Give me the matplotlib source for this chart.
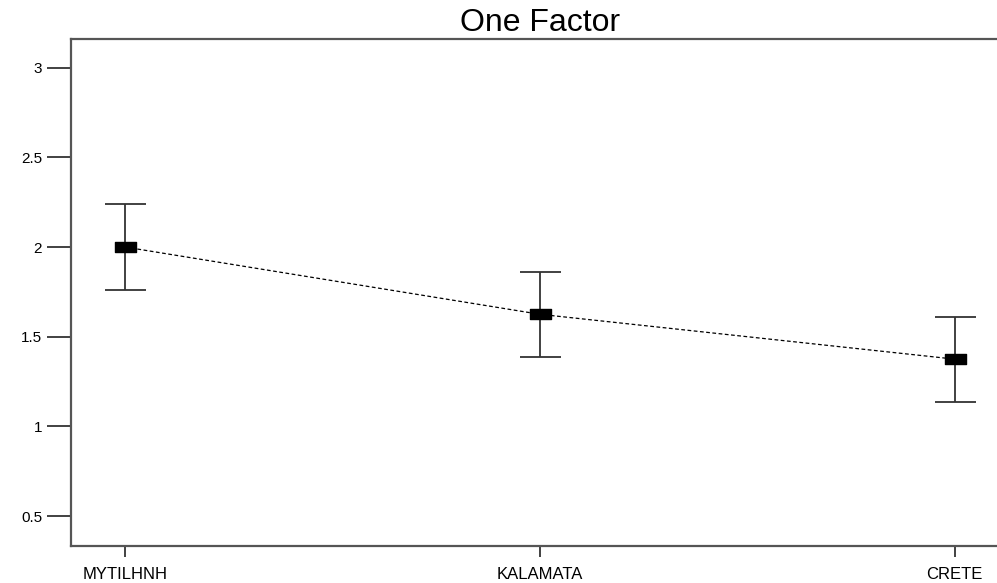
import matplotlib
matplotlib.use("Agg")
import matplotlib.pyplot as plt
from matplotlib.path import Path

# Group means with their interval half-widths
groups = ["MYTILHNH", "KALAMATA", "CRETE"]
means = [2.0, 1.625, 1.375]
half_width = [0.24, 0.237, 0.237]
y_ticks = [0.5, 1, 1.5, 2, 2.5, 3]
y_tick_labels = ["0.5", "1", "1.5", "2", "2.5", "3"]

plt.rcParams["font.family"] = ["Liberation Sans", "DejaVu Sans"]

fig = plt.figure(figsize=(9.97, 5.83), dpi=100)
# axes box runs slightly past the right edge of the canvas
ax = fig.add_axes([70.7 / 997, 1 - 546 / 583, (1009 - 70.7) / 997, (546 - 39) / 583])

x = list(range(1, len(groups) + 1))

# flat rectangle marker for the means
rect = Path([[-1, -0.5], [1, -0.5], [1, 0.5], [-1, 0.5], [-1, -0.5]],
            [Path.MOVETO, Path.LINETO, Path.LINETO, Path.LINETO, Path.CLOSEPOLY])

ax.plot(x, means, color="black", lw=0.9, linestyle=(0, (3, 2)), zorder=2)
ax.errorbar(x, means, yerr=half_width, fmt="none", ecolor="#333333",
            elinewidth=1.3, capsize=20.5 * 0.72, capthick=1.3, zorder=3)
ax.plot(x, means, linestyle="none", marker=rect, markersize=21 * 0.72,
        color="black", zorder=4)

ax.set_xlim(0.869, 3.131)
ax.set_ylim(0.333, 3.16)
ax.set_xticks(x)
ax.set_xticklabels(groups, fontsize=12)
ax.set_yticks(y_ticks)
ax.set_yticklabels(y_tick_labels, fontsize=11)

ax.tick_params(axis="y", direction="out", length=17, width=1.3, pad=3.5, colors="#333333",
               labelcolor="black")
ax.tick_params(axis="x", direction="out", length=8, width=1.3, pad=7, colors="#333333",
               labelcolor="black")

for s in ["left", "bottom", "top", "right"]:
    ax.spines[s].set_linewidth(1.6)
    ax.spines[s].set_color("#555555")

ax.set_title("One Factor", fontsize=23, pad=6)

fig.savefig("out.png", dpi=100)
